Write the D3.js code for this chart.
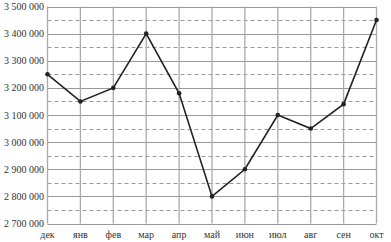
<!DOCTYPE html>
<meta charset="utf-8">
<style>
body { margin: 0; background: #fff; }
text { font-family: "Liberation Serif", "DejaVu Serif", serif; fill: #333; }
.grid line { stroke: #999; stroke-width: 1; }
.grid .vert { stroke: #aaa; stroke-width: 1.3; }
.grid .half { stroke: #999; stroke-dasharray: 4,3; }
</style>
<svg width="391" height="242"></svg>
<script src="https://d3js.org/d3.v7.min.js"></script>
<script>
// data
var months = ["дек", "янв", "фев", "мар", "апр", "май", "июн", "июл", "авг", "сен", "окт"];
var values = [3250000, 3150000, 3200000, 3400000, 3180000, 2800000, 2900000, 3100000, 3050000, 3140000, 3450000];
var yTicks = [2700000, 2800000, 2900000, 3000000, 3100000, 3200000, 3300000, 3400000, 3500000];
var yHalf = [2750000, 2850000, 2950000, 3050000, 3150000, 3250000, 3350000, 3450000];

var svg = d3.select("svg"),
    plotL = 47.5, plotR = 376.5, plotT = 6.5, plotB = 223.5;

var x = d3.scalePoint().domain(months).range([plotL, plotR]);
var y = d3.scaleLinear().domain([2700000, 3500000]).range([plotB, plotT]);

var fmt = function(d) { return d3.format(",")(d).replace(/,/g, " "); };

var grid = svg.append("g").attr("class", "grid");

grid.selectAll("line.half")
    .data(yHalf)
    .enter().append("line")
    .attr("class", "half")
    .attr("x1", plotL).attr("x2", plotR)
    .attr("y1", function(d) { return Math.round(y(d)) + 0.5; })
    .attr("y2", function(d) { return Math.round(y(d)) + 0.5; });

grid.selectAll("line.full")
    .data(yTicks)
    .enter().append("line")
    .attr("class", "full")
    .attr("x1", plotL).attr("x2", plotR)
    .attr("y1", function(d) { return Math.round(y(d)) + 0.5; })
    .attr("y2", function(d) { return Math.round(y(d)) + 0.5; });

grid.selectAll("line.vert")
    .data(months)
    .enter().append("line")
    .attr("class", "vert")
    .attr("x1", function(d) { return x(d); })
    .attr("x2", function(d) { return x(d); })
    .attr("y1", plotT).attr("y2", plotB);

// y labels
svg.append("g").selectAll("text")
    .data(yTicks)
    .enter().append("text")
    .attr("x", 44)
    .attr("y", function(d) { return y(d); })
    .attr("dy", "0.35em")
    .attr("text-anchor", "end")
    .attr("font-size", 10)
    .text(fmt);

// month labels
svg.append("g").selectAll("text")
    .data(months)
    .enter().append("text")
    .attr("x", function(d) { return x(d); })
    .attr("y", 238)
    .attr("text-anchor", "middle")
    .attr("font-size", 10)
    .text(function(d) { return d; });

var pts = months.map(function(m, i) { return {m: m, v: values[i]}; });

svg.append("path")
    .datum(pts)
    .attr("fill", "none")
    .attr("stroke", "#222")
    .attr("stroke-width", 1.6)
    .attr("d", d3.line().x(function(d) { return x(d.m); }).y(function(d) { return y(d.v); }));

svg.append("g").selectAll("circle")
    .data(pts)
    .enter().append("circle")
    .attr("cx", function(d) { return x(d.m); })
    .attr("cy", function(d) { return y(d.v); })
    .attr("r", 2.3)
    .attr("fill", "#222");
</script>
